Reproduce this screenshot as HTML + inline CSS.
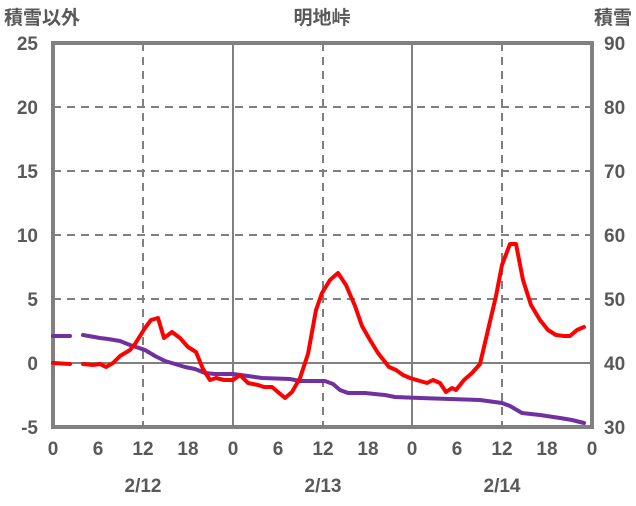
<!DOCTYPE html>
<html><head><meta charset="utf-8"><style>
body{margin:0;background:#fff}
svg text{font-family:"Liberation Sans","Noto Sans CJK JP",sans-serif;fill:#595959;font-size:19px;font-weight:bold}
</style></head><body>
<svg width="636" height="501" xmlns="http://www.w3.org/2000/svg">
<rect width="636" height="501" fill="#fff"/>
<g stroke="#808080" stroke-width="2" stroke-dasharray="8,6" fill="none">
<line x1="53" y1="107" x2="592" y2="107"/><line x1="53" y1="171" x2="592" y2="171"/>
<line x1="53" y1="235" x2="592" y2="235"/><line x1="53" y1="299" x2="592" y2="299"/>
<line x1="143" y1="43" x2="143" y2="427"/><line x1="323" y1="43" x2="323" y2="427"/><line x1="502" y1="43" x2="502" y2="427"/>
</g>
<g stroke="#808080" stroke-width="2">
<line x1="53" y1="363" x2="592" y2="363"/>
<line x1="233" y1="43" x2="233" y2="427"/><line x1="412" y1="43" x2="412" y2="427"/>
</g>
<rect x="53" y="43" width="539" height="384" fill="none" stroke="#808080" stroke-width="4"/>
<g fill="none" stroke-width="4" stroke-linejoin="round" stroke-linecap="round">
<polyline stroke="#7030a0" points="53,336 70,336"/>
<polyline stroke="#7030a0" points="83,335 100,338 108,339 120,341 130,345 145,350 155,356 165,361 175,364 185,367 195,369 205,373 215,374 233,374 248,376 262,378 290,379 300,381 315,381 325,381 333,384 340,390 348,393 365,393 385,395 395,397 420,398 480,400 502,403 510,406 522,413 540,415 560,418 572,420 584,423"/>
<polyline stroke="#ff0000" points="53,363 70,364"/>
<polyline stroke="#ff0000" points="83,364 93,365 100,364 106,367 113,363 120,356 130,350 135,344 140,336 145,328 151,320 158,318 164,338 172,332 180,338 188,347 196,352 203,369 210,380 216,378 224,380 233,380 240,375 248,383 258,385 264,387 272,387 285,398 292,392 300,378 308,354 316,310 322,293 330,280 338,273 346,285 355,306 362,326 370,340 378,353 389,367 396,370 403,375 410,378 420,381 427,383 433,380 440,383 446,392 452,388 456,390 464,380 472,373 480,364 488,330 496,296 502,265 510,244 516,244 523,280 531,305 540,320 548,330 556,335 564,336 570,336 577,330 584,327"/>
</g>
<g text-anchor="end">
<text x="38" y="50">25</text><text x="38" y="114">20</text><text x="38" y="178">15</text>
<text x="38" y="242">10</text><text x="38" y="306">5</text><text x="38" y="370">0</text><text x="38" y="434">-5</text>
</g>
<g text-anchor="start">
<text x="604" y="50">90</text><text x="604" y="114">80</text><text x="604" y="178">70</text>
<text x="604" y="242">60</text><text x="604" y="306">50</text><text x="604" y="370">40</text><text x="604" y="434">30</text>
</g>
<g text-anchor="middle">
<text x="53" y="455">0</text><text x="98" y="455">6</text><text x="143" y="455">12</text><text x="188" y="455">18</text>
<text x="233" y="455">0</text><text x="278" y="455">6</text><text x="323" y="455">12</text><text x="368" y="455">18</text>
<text x="412" y="455">0</text><text x="457" y="455">6</text><text x="502" y="455">12</text><text x="547" y="455">18</text><text x="592" y="455">0</text>
<text x="143" y="492">2/12</text><text x="323" y="492">2/13</text><text x="502" y="492">2/14</text>
<text x="322" y="24">明地峠</text>
</g>
<text x="4" y="24">積雪以外</text>
<text x="632" y="24" text-anchor="end">積雪</text>
</svg>
</body></html>
